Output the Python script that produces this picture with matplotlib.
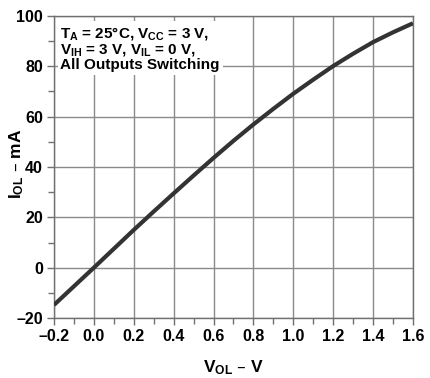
import matplotlib
matplotlib.use('Agg')
import matplotlib.pyplot as plt
from matplotlib.ticker import MultipleLocator

# 读取曲线数据
v_ol = [-0.2, -0.1, 0.0, 0.1, 0.2, 0.3, 0.4, 0.5, 0.6, 0.7, 0.8,
        0.9, 1.0, 1.1, 1.2, 1.3, 1.4, 1.5, 1.6]
i_ol = [-14.8, -7.4, 0.0, 7.5, 15.0, 22.3, 29.5, 36.6, 43.6, 50.4, 56.9,
        63.1, 69.1, 74.7, 80.1, 85.0, 89.6, 93.5, 97.1]

x_ticks = [-0.2, 0.0, 0.2, 0.4, 0.6, 0.8, 1.0, 1.2, 1.4, 1.6]
y_ticks = [-20, 0, 20, 40, 60, 80, 100]

plt.rcParams['font.family'] = ['Liberation Sans', 'DejaVu Sans']
plt.rcParams['mathtext.default'] = 'regular'

fig = plt.figure(figsize=(4.31, 3.78), dpi=100)
ax = fig.add_axes([0.1253, 0.1587, 0.8327, 0.799])

ax.plot(v_ol, i_ol, color='#333333', lw=3, solid_capstyle='butt', zorder=3)

ax.set_xlim(-0.2, 1.6)
ax.set_ylim(-20, 100)
ax.set_xticks(x_ticks)
ax.set_yticks(y_ticks)
# 负号用长破折号
ax.set_xticklabels([('%.1f' % v).replace('-', '–') for v in x_ticks])
ax.set_yticklabels([str(v).replace('-', '–') for v in y_ticks])
ax.xaxis.set_minor_locator(MultipleLocator(0.1))
ax.yaxis.set_minor_locator(MultipleLocator(10))
ax.grid(True, which='major', color='#8a8a8a', lw=1)
ax.set_axisbelow(True)

for s in ax.spines.values():
    s.set_color('#707070')
    s.set_linewidth(1)
ax.tick_params(which='both', direction='out', color='#707070', width=1)
ax.tick_params(which='major', length=5, labelsize=11.5, pad=3)
ax.tick_params(which='minor', length=4)
for lab in ax.get_xticklabels() + ax.get_yticklabels():
    lab.set_fontweight('bold')

ax.set_xlabel('V$_{OL}$ – V', fontsize=12.5, fontweight='bold')
ax.set_ylabel('I$_{OL}$ – mA', fontsize=12.5, fontweight='bold')
ax.xaxis.set_label_coords(0.5, -0.135)
ax.yaxis.set_label_coords(-0.078, 0.51)

ax.text(-0.168, 96.5, 'T$_{A}$ = 25°C, V$_{CC}$ = 3 V,\nV$_{IH}$ = 3 V, V$_{IL}$ = 0 V,\nAll Outputs Switching',
        fontsize=11, fontweight='bold', va='top', ha='left', linespacing=1.0,
        bbox=dict(facecolor='white', edgecolor='none', pad=2), zorder=4)

fig.savefig('out.png', dpi=100)
